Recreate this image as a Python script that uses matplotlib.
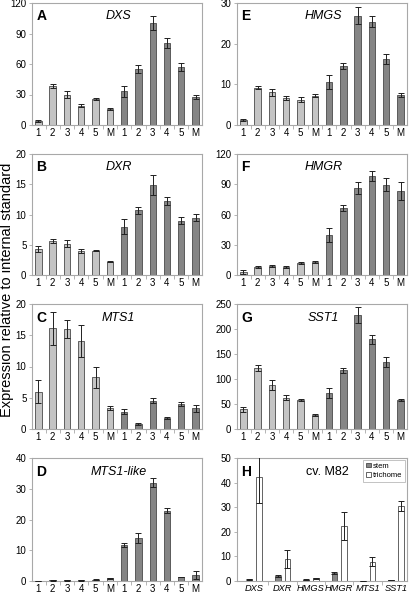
import matplotlib
matplotlib.use("Agg")
import matplotlib.pyplot as plt
import numpy as np

plt.rcParams["font.family"] = ["Liberation Sans", "DejaVu Sans"]

CATS = ["1", "2", "3", "4", "5", "M", "1", "2", "3", "4", "5", "M"]

# values: first 6 light bars, last 6 dark bars
dxs = [4, 38, 30, 19, 26, 16, 33, 55, 100, 81, 57, 28]
dxs_err = [1, 2, 3.5, 1.5, 1, 1, 5, 4, 7, 5, 4, 2]
dxr = [4.3, 5.6, 5.2, 4.0, 4.0, 2.2, 8.0, 10.7, 14.9, 12.2, 9.0, 9.5]
dxr_err = [0.5, 0.3, 0.6, 0.3, 0.1, 0.1, 1.2, 0.6, 1.6, 0.7, 0.6, 0.6]
mts1 = [6.0, 16.1, 16.0, 14.1, 8.3, 3.4, 2.8, 0.75, 4.5, 1.8, 4.0, 3.3]
mts1_err = [1.9, 2.7, 1.5, 2.5, 1.7, 0.3, 0.4, 0.15, 0.4, 0.15, 0.3, 0.6]
mts1like = [0.05, 0.2, 0.2, 0.2, 0.4, 0.9, 11.7, 14.1, 32.0, 22.8, 1.3, 2.0]
mts1like_err = [0.02, 0.1, 0.1, 0.1, 0.2, 0.1, 0.6, 1.6, 1.4, 0.8, 0.1, 1.2]
hmgs = [1.2, 9.2, 8.0, 6.7, 6.2, 7.2, 10.6, 14.5, 26.9, 25.4, 16.2, 7.4]
hmgs_err = [0.3, 0.4, 0.9, 0.5, 0.6, 0.4, 1.7, 0.7, 2.0, 1.3, 1.2, 0.4]
hmgr = [2.7, 8, 9, 8, 12, 13, 40, 66, 86, 98, 89.5, 83]
hmgr_err = [2, 0.8, 1, 0.6, 0.7, 1, 7, 3, 6, 5, 6.5, 9]
sst1 = [40, 123, 89, 63, 59, 28, 72, 117.5, 228, 180, 134.5, 59]
sst1_err = [5, 6, 10, 5, 2, 2, 10, 5, 16, 9, 10, 2]

genes_h = ["DXS", "DXR", "HMGS", "HMGR", "MTS1", "SST1"]
stem = [0.7, 2.0, 0.6, 3.2, 0.05, 0.3]
stem_err = [0.1, 0.4, 0.1, 0.5, 0.0, 0.05]
trichome = [42.2, 9.0, 1.2, 22.2, 7.8, 30.4]
trichome_err = [10.5, 3.8, 0.2, 5.7, 1.8, 2.0]

LIGHT = "#c4c4c4"
DARK = "#858585"
EDGE = "#4a4a4a"
FRAME = "#a8a8a8"

W, H = 414, 593
fig = plt.figure(figsize=(W / 100, H / 100), dpi=100)


def make_ax(x0, x1, y0, y1):
    return fig.add_axes([x0 / W, 1 - y1 / H, (x1 - x0) / W, (y1 - y0) / H])


def style(ax, ymax, step):
    for s in ax.spines.values():
        s.set_color(FRAME)
        s.set_linewidth(0.8)
    ax.set_ylim(0, ymax)
    ax.set_yticks(np.arange(0, ymax + step / 2, step))
    ax.tick_params(axis="y", length=2.5, width=0.6, color=FRAME, labelsize=7, pad=1.5)
    ax.tick_params(axis="x", which="major", length=0, labelsize=7, pad=2.5)
    ax.tick_params(axis="x", which="minor", length=3, width=0.6, color=FRAME)


def panel(ax, vals, errs, ymax, step, letter, gene):
    x = np.arange(12)
    colors = [LIGHT] * 6 + [DARK] * 6
    ax.bar(x, vals, width=0.45, color=colors, edgecolor=EDGE, linewidth=0.6, zorder=2)
    ax.errorbar(x, vals, yerr=errs, fmt="none", ecolor="#202020",
                elinewidth=0.7, capsize=2, capthick=0.7, zorder=3)
    ax.set_xlim(-0.45, 11.45)
    ax.set_xticks(x)
    ax.set_xticklabels(CATS)
    ax.set_xticks(np.arange(0.5, 11, 1), minor=True)
    style(ax, ymax, step)
    ax.text(0.025, 0.89, letter, transform=ax.transAxes, fontsize=10,
            fontweight="bold", va="center")
    ax.text(0.51, 0.89, gene, transform=ax.transAxes, fontsize=9,
            style="italic", va="center", ha="center")


LX = (32, 202)
RX = (237, 407)
ROWS = [(3, 125), (154, 275), (304, 429), (458, 581)]

panel(make_ax(*LX, *ROWS[0]), dxs, dxs_err, 120, 30, "A", "DXS")
panel(make_ax(*LX, *ROWS[1]), dxr, dxr_err, 20, 5, "B", "DXR")
panel(make_ax(*LX, *ROWS[2]), mts1, mts1_err, 20, 5, "C", "MTS1")
panel(make_ax(*LX, *ROWS[3]), mts1like, mts1like_err, 40, 10, "D", "MTS1-like")
panel(make_ax(*RX, *ROWS[0]), hmgs, hmgs_err, 30, 10, "E", "HMGS")
panel(make_ax(*RX, *ROWS[1]), hmgr, hmgr_err, 120, 30, "F", "HMGR")
panel(make_ax(*RX, *ROWS[2]), sst1, sst1_err, 250, 50, "G", "SST1")

# panel H: stem vs trichome
ax = make_ax(*RX, *ROWS[3])
g = np.arange(6)
ax.bar(g - 0.17, stem, width=0.2, color=DARK, edgecolor=EDGE, linewidth=0.6,
       label="stem", zorder=2)
ax.bar(g + 0.17, trichome, width=0.2, color="white", edgecolor=EDGE, linewidth=0.6,
       label="trichome", zorder=2)
ax.errorbar(g - 0.17, stem, yerr=stem_err, fmt="none", ecolor="#202020",
            elinewidth=0.7, capsize=2, capthick=0.7, zorder=3)
ax.errorbar(g + 0.17, trichome, yerr=trichome_err, fmt="none", ecolor="#202020",
            elinewidth=0.7, capsize=2, capthick=0.7, zorder=3)
ax.set_xlim(-0.61, 5.39)
ax.set_xticks(g)
ax.set_xticks(np.arange(0.5, 5, 1), minor=True)
style(ax, 50, 10)
ax.set_xticklabels(genes_h, style="italic", fontsize=6.7)
ax.text(0.025, 0.89, "H", transform=ax.transAxes, fontsize=10,
        fontweight="bold", va="center")
ax.text(0.53, 0.89, "cv. M82", transform=ax.transAxes, fontsize=9,
        va="center", ha="center")
leg = ax.legend(loc="upper right", fontsize=5.5, handlelength=0.6, handleheight=0.6,
                handletextpad=0.3, borderpad=0.4, labelspacing=0.3,
                fancybox=False, borderaxespad=0.2)
leg.get_frame().set_edgecolor(FRAME)
leg.get_frame().set_linewidth(0.6)

fig.text(7 / W, 1 - 290 / H, "Expression relative to internal standard", rotation=90,
         fontsize=10.5, ha="center", va="center")

fig.savefig("out.png", dpi=100)
